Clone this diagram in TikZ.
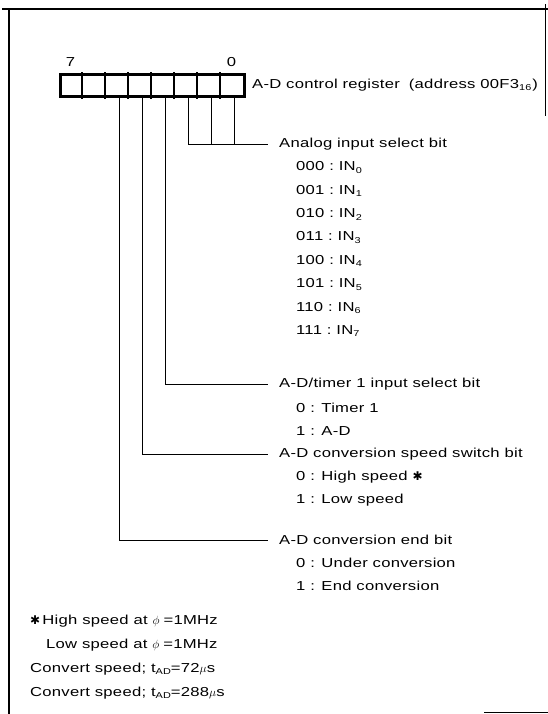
\documentclass[tikz,border=0pt]{standalone}
\usepackage{fontspec}
\setmainfont{Liberation Sans}[FakeStretch=1.28,LetterSpace=2]
\newfontfamily\symfont{DejaVu Sans}
\usetikzlibrary{calc,positioning}
\newcommand{\lo}[1]{\raisebox{-.35ex}{\fontsize{8.5}{8.5}\selectfont #1}}
\newcommand{\hstar}{{\symfont\fontsize{12}{12}\selectfont ✱}}
\tikzset{
 sheet/.style={x=1pt,y=-1pt,font=\fontsize{13}{15}\selectfont,line cap=rect},
 frame/.style={line width=2.4pt},
 regbox/.style={rectangle,draw,line width=2.8pt,inner sep=0pt,minimum width=184pt,minimum height=22pt},
 divider/.style={line width=1.6pt},
 lead/.style={line width=.9pt,line cap=butt},
 head/.style={anchor=west,inner xsep=11pt,inner ysep=0pt},
 item/.style={anchor=west,inner sep=0pt},
 bitno/.style={inner sep=0pt},
 note/.style={anchor=west,inner sep=0pt}
}

\begin{document}
\begin{tikzpicture}[sheet]
 \useasboundingbox (0,0) rectangle (547,714);
 % page frame
 \draw[frame] (3,9) -- (547,9);
 \draw[frame] (9,9) -- (9,714);
 \draw[line width=1.2pt] (545.5,5) -- (545.5,115);
 \draw[line width=1.5pt] (485,712.5) -- (547,712.5);
 % register
 \node[regbox,anchor=north west] (reg) at (59,73) {};
 \foreach \i in {1,...,7}
  \draw[divider] ($(reg.north west)+(23*\i,0)$) -- ($(reg.south west)+(23*\i,0)$);
 \foreach \b in {0,...,5}
  \coordinate (b\b) at ($(reg.south east)+(-11.5-23*\b,0)$);
 \node[bitno] (msb) at (70.5,62) {7};
 \node[bitno] (lsb) at (231.5,62) {0};
 \node[item] (title) at (252,85) {A-D control register\hspace{9pt}(address 00F3\lo{16}\hspace{1pt})};
 % analog input select
 \node[head] (ana) at (268,144) {Analog input select bit};
 \foreach \code [count=\k from 0] in {000,001,010,011,100,101,110,111}
  \node[item] (in\k) at (296,{167.5+23.4*\k}) {\code\ :\ IN\lo{\k}};
 \draw[lead] (b2) |- (ana.west);
 \draw[lead] (b1) -- (b1 |- ana.west);
 \draw[lead] (b0) -- (b0 |- ana.west);
 % A-D/timer 1
 \node[head] (tmr) at (268,384) {A-D/timer 1 input select bit};
 \node[item] (tmr0) at (296,407.5) {0 : Timer 1};
 \node[item] (tmr1) at (296,431) {1 : A-D};
 \draw[lead] (b3) |- (tmr.west);
 % speed switch
 \node[head] (spd) at (268,454) {A-D conversion speed switch bit};
 \node[item] (spd0) at (296,477) {0 : High speed \hstar};
 \node[item] (spd1) at (296,500) {1 : Low speed};
 \draw[lead] (b4) |- (spd.west);
 % end bit
 \node[head] (endb) at (268,540) {A-D conversion end bit};
 \node[item] (end0) at (296,563) {0 : Under conversion};
 \node[item] (end1) at (296,586) {1 : End conversion};
 \draw[lead] (b5) |- (endb.west);
 % footnotes
 \node[note] (fn1) at (30,621) {\hstar\,High speed at $\phi$\hspace{4pt}=1MHz};
 \node[note] (fn2) at (46,645) {Low speed at $\phi$\hspace{4pt}=1MHz};
 \node[note] (fn3) at (30,669) {Convert speed; t\lo{AD}=72$\mu$s};
 \node[note] (fn4) at (30,693) {Convert speed; t\lo{AD}=288$\mu$s};
\end{tikzpicture}
\end{document}
